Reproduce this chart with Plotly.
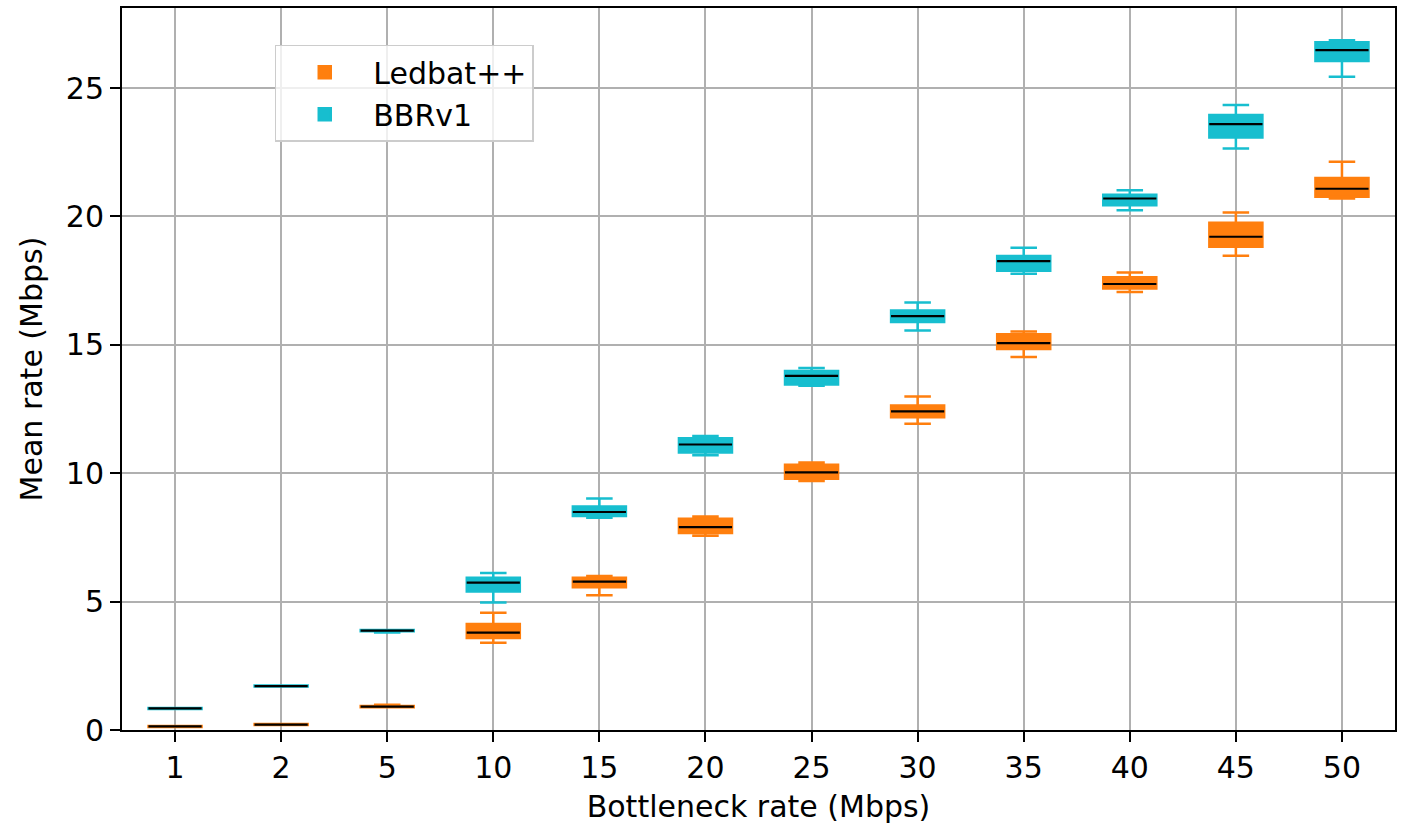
import plotly.graph_objects as go

# Bottleneck rates (Mbps) used as category labels
rates = ["1", "2", "5", "10", "15", "20", "25", "30", "35", "40", "45", "50"]

# Ledbat++ mean-rate distribution summary (Mbps)
ledbat_low = [0.12, 0.19, 0.89, 3.40, 5.25, 7.57, 9.70, 11.93, 14.53, 17.06, 18.47, 20.70]
ledbat_q1 = [0.12, 0.19, 0.89, 3.58, 5.56, 7.67, 9.79, 12.18, 14.84, 17.20, 18.82, 20.77]
ledbat_med = [0.14, 0.21, 0.91, 3.79, 5.78, 7.90, 10.03, 12.41, 15.07, 17.37, 19.21, 21.08]
ledbat_q3 = [0.16, 0.23, 0.93, 4.13, 5.93, 8.23, 10.33, 12.64, 15.41, 17.63, 19.76, 21.50]
ledbat_high = [0.16, 0.23, 0.98, 4.57, 6.00, 8.32, 10.42, 12.99, 15.52, 17.82, 20.16, 22.13]

# BBRv1 mean-rate distribution summary (Mbps)
bbr_low = [0.82, 1.69, 3.80, 4.97, 8.27, 10.70, 13.41, 15.56, 17.77, 20.24, 22.65, 25.44]
bbr_q1 = [0.82, 1.69, 3.85, 5.39, 8.33, 10.81, 13.46, 15.89, 17.89, 20.44, 23.08, 26.06]
bbr_med = [0.84, 1.71, 3.87, 5.74, 8.49, 11.12, 13.79, 16.12, 18.26, 20.70, 23.60, 26.48]
bbr_q3 = [0.86, 1.73, 3.89, 5.93, 8.70, 11.36, 13.98, 16.34, 18.46, 20.85, 23.95, 26.79]
bbr_high = [0.86, 1.73, 3.89, 6.11, 9.02, 11.45, 14.10, 16.65, 18.78, 21.02, 24.34, 26.86]

ORANGE = "#ff7f0e"
CYAN = "#17becf"
FONT = "DejaVu Sans"

pos = list(range(len(rates)))

fig = go.Figure()

series = [
    ("Ledbat++", ORANGE, ledbat_low, ledbat_q1, ledbat_med, ledbat_q3, ledbat_high),
    ("BBRv1", CYAN, bbr_low, bbr_q1, bbr_med, bbr_q3, bbr_high),
]

for name, color, lo, q1, med, q3, hi in series:
    fig.add_trace(go.Box(
        name=name,
        x=pos,
        q1=q1, median=med, q3=q3,
        lowerfence=lo, upperfence=hi,
        width=0.5,
        whiskerwidth=0.5,
        fillcolor=color,
        line=dict(color=color, width=2.5),
        boxpoints=False,
        hoverinfo="skip",
    ))

# Black median bars drawn over each box (line-ew length is 1.4 x size)
for name, color, lo, q1, med, q3, hi in series:
    fig.add_trace(go.Scatter(
        x=pos, y=med,
        mode="markers",
        marker=dict(symbol="line-ew", size=38,
                    line=dict(color="black", width=2.2)),
        showlegend=False,
        hoverinfo="skip",
    ))

axis_common = dict(
    showline=True, linecolor="black", linewidth=2, mirror=True,
    ticks="outside", ticklen=10, tickwidth=2, tickcolor="black",
    showgrid=True, gridcolor="#b0b0b0", gridwidth=2,
    zeroline=False,
    tickfont=dict(family=FONT, size=30, color="black"),
)

fig.update_layout(
    width=1401, height=826,
    margin=dict(l=122, r=4, t=8, b=96),
    paper_bgcolor="white", plot_bgcolor="white",
    boxmode="overlay",
    font=dict(family=FONT, size=30, color="black"),
    xaxis=dict(
        **axis_common,
        range=[-0.5, len(rates) - 0.5],
        tickmode="array", tickvals=pos, ticktext=rates,
        title=dict(text="Bottleneck rate (Mbps)", font=dict(family=FONT, size=30), standoff=12),
    ),
    yaxis=dict(
        **axis_common,
        range=[0, 28.12],
        tickmode="array", tickvals=[0, 5, 10, 15, 20, 25],
        title=dict(text="Mean rate (Mbps)", font=dict(family=FONT, size=30), standoff=14),
    ),
    legend=dict(
        x=0.12, y=0.949, xanchor="left", yanchor="top",
        bgcolor="rgba(255,255,255,0.8)",
        bordercolor="#cccccc", borderwidth=1.5,
        font=dict(family=FONT, size=30, color="black"),
        itemwidth=87,
        tracegroupgap=4,
    ),
)

fig.write_html("out.html")
